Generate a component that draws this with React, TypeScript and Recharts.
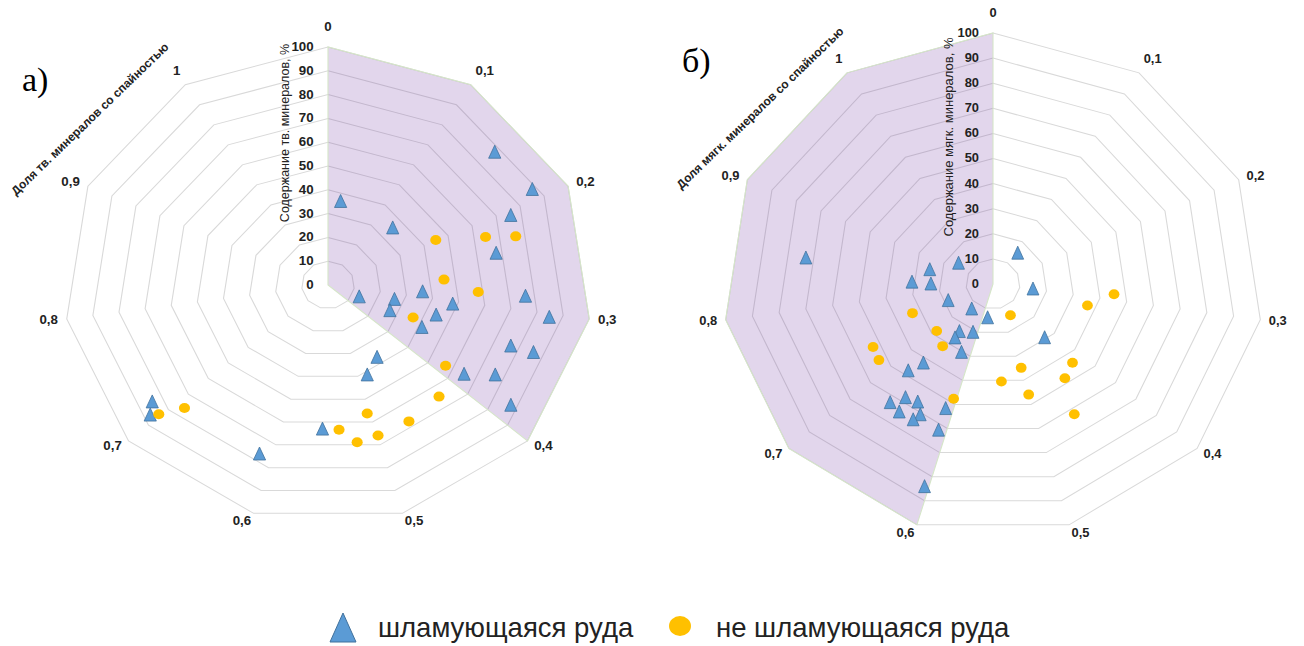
import React from 'react'
import { RadarChart, Radar, PolarGrid, PolarAngleAxis, PolarRadiusAxis } from 'recharts'

// доля минералов со спайностью (угол) и содержание минералов, % (радиус)
const angleTicks = [0, 0.1, 0.2, 0.3, 0.4, 0.5, 0.6, 0.7, 0.8, 0.9, 1]
const radiusTicks = [0, 10, 20, 30, 40, 50, 60, 70, 80, 90, 100]

// а) твёрдые минералы
const slimeHard: [number, number][] = [
  [0.149, 84], [0.192, 87], [0.206, 75], [0.24, 65], [0.024, 35], [0.141, 34],
  [0.35, 13], [0.319, 26], [0.291, 36], [0.353, 26], [0.306, 48], [0.329, 43],
  [0.287, 75], [0.304, 85], [0.358, 40], [0.338, 74], [0.337, 83], [0.455, 36],
  [0.485, 41], [0.386, 64], [0.37, 74], [0.386, 86], [0.556, 61], [0.611, 76],
  [0.713, 83], [0.705, 87],
]
const nonSlimeHard: [number, number][] = [
  [0.199, 45], [0.218, 63], [0.226, 74], [0.266, 44], [0.284, 57], [0.345, 35],
  [0.389, 56], [0.422, 63], [0.503, 56], [0.464, 65], [0.538, 61], [0.499, 66],
  [0.521, 67], [0.692, 75], [0.702, 84],
]
const zoneHard: [number, number][] = [
  [0, 100], [0.1, 100], [0.2, 100], [0.3, 100], [0.4, 100], [0.4, 0],
]

// б) мягкие минералы
const slimeSoft: [number, number][] = [
  [0.85, 70], [0.115, 15], [0.922, 15], [0.864, 24], [0.827, 30], [0.822, 23],
  [0.303, 15], [0.755, 18], [0.664, 13], [0.575, 14], [0.65, 23], [0.613, 21],
  [0.65, 26], [0.62, 30], [0.424, 29], [0.669, 41], [0.678, 47], [0.668, 61],
  [0.658, 56], [0.643, 55], [0.654, 62], [0.633, 59], [0.637, 62], [0.609, 53],
  [0.608, 62], [0.603, 85],
]
const nonSlimeSoft: [number, number][] = [
  [0.291, 45], [0.317, 36], [0.466, 14], [0.76, 32], [0.697, 28], [0.663, 31],
  [0.735, 51], [0.716, 52], [0.497, 35], [0.418, 43], [0.442, 46], [0.536, 39],
  [0.499, 46], [0.604, 48], [0.458, 60],
]
const zoneSoft: [number, number][] = [
  [0.6, 0], [0.6, 100], [0.7, 100], [0.8, 100], [0.9, 100], [1, 100], [1.1, 100],
]

type Row = { a: number; tri?: number; circ?: number; shade?: number }

function buildRows(tri: [number, number][], circ: [number, number][], shade: [number, number][]): Row[] {
  return [
    ...tri.map(([a, r]) => ({ a, tri: r })),
    ...circ.map(([a, r]) => ({ a, circ: r })),
    ...shade.map(([a, r]) => ({ a, shade: r })),
  ]
}

const FONT = '"Liberation Sans", Arial, sans-serif'

// rows without a value for this series must not get a marker
const hasValue = (props: any, key: string) => {
  const { cx, cy, payload } = props
  if (!Number.isFinite(cx) || !Number.isFinite(cy)) return false
  const v = payload?.[key] ?? payload?.payload?.[key]
  return typeof v === 'number'
}

const TriangleDot = (props: any) => {
  if (!hasValue(props, 'tri')) return <g />
  const { cx, cy } = props
  return (
    <path
      d={`M${cx},${cy - 8}L${cx + 5.5},${cy + 5}L${cx - 5.5},${cy + 5}Z`}
      fill="#5B9BD5"
      stroke="#41719C"
      strokeWidth={0.75}
    />
  )
}

const CircleDot = (props: any) => {
  if (!hasValue(props, 'circ')) return <g />
  const { cx, cy } = props
  return <circle cx={cx} cy={cy} r={5} fill="#FFC000" />
}

const AngleTick = (props: any) => {
  const { x, y, textAnchor, payload } = props
  if (payload.value > 1.05) return <g />
  const s = Math.sin((payload.coordinate * Math.PI) / 180)
  const dy = 4 - 12 * Math.pow(Math.max(0, s), 3)
  return (
    <text x={x} y={y + dy} textAnchor={textAnchor} fontSize={12} fontWeight="bold" fill="#222" fontFamily={FONT}>
      {String(payload.value).replace('.', ',')}
    </text>
  )
}

const RadiusTick = (props: any) => {
  const { x, y, payload } = props
  return (
    <text x={x - 13} y={y + 4} textAnchor="end" fontSize={12} fontWeight="bold" fill="#222" fontFamily={FONT}>
      {payload.value}
    </text>
  )
}

function Spider({ rows, cx, cy, radius, width, zoneOnTop }: {
  rows: Row[]; cx: number; cy: number; radius: number; width: number; zoneOnTop: boolean
}) {
  const zone = (
    <Radar
      dataKey="shade"
      fill="#7030A0"
      fillOpacity={0.2}
      stroke="#D5E6C8"
      strokeWidth={1}
      connectNulls
      dot={false}
      isAnimationActive={false}
    />
  )
  return (
    <RadarChart width={width} height={646} data={rows} cx={cx} cy={cy} outerRadius={radius} margin={{ top: 0, right: 0, bottom: 0, left: 0 }}>
      <PolarGrid gridType="polygon" radialLines={false} stroke="#D9D9D9" />
      <PolarAngleAxis
        dataKey="a"
        type="number"
        domain={[0, 1.1]}
        ticks={angleTicks as any}
        tickCount={12}
        axisLine={false}
        tickLine={false}
        tickSize={8}
        tick={AngleTick}
      />
      <PolarRadiusAxis angle={90} domain={[0, 100]} ticks={radiusTicks as any} tickCount={11} axisLine={false} tick={RadiusTick} />
      {!zoneOnTop && zone}
      <Radar dataKey="tri" fill="none" stroke="none" dot={TriangleDot} isAnimationActive={false} />
      <Radar dataKey="circ" fill="none" stroke="none" dot={CircleDot} isAnimationActive={false} />
      {zoneOnTop && zone}
    </RadarChart>
  )
}

export default function App() {
  const hardRows = buildRows(slimeHard, nonSlimeHard, zoneHard)
  const softRows = buildRows(slimeSoft, nonSlimeSoft, zoneSoft)
  return (
    <div style={{ position: 'absolute', left: 0, top: 0, width: 1304, height: 646, background: '#fff', overflow: 'hidden' }}>
      <div style={{ position: 'absolute', left: 0, top: 0, width: 660, height: 646, transform: 'scaleX(1.109)', transformOrigin: '328px 0' }}>
        <Spider rows={hardRows} cx={328} cy={285} radius={238} width={660} zoneOnTop />
      </div>
      <div style={{ position: 'absolute', left: 660, top: 0, width: 644, height: 646, transform: 'scaleX(1.076)', transformOrigin: '333px 0' }}>
        <Spider rows={softRows} cx={333} cy={284} radius={251} width={644} zoneOnTop={false} />
      </div>
      <svg width={1304} height={646} style={{ position: 'absolute', left: 0, top: 0, pointerEvents: 'none' }}>
        <text x={22} y={91} fontSize={34} fontFamily='"Liberation Serif", "Times New Roman", serif' fill="#000">а)</text>
        <text x={682} y={72} fontSize={34} fontFamily='"Liberation Serif", "Times New Roman", serif' fill="#000">б)</text>

        <text transform="translate(90,119) rotate(-44)" textAnchor="middle" dominantBaseline="central" fontSize={12} fontWeight="bold" fill="#222" fontFamily={FONT}>
          Доля тв. минералов со спайностью
        </text>
        <text transform="translate(760,108) rotate(-44)" textAnchor="middle" dominantBaseline="central" fontSize={12} fontWeight="bold" fill="#222" fontFamily={FONT}>
          Доля мягк. минералов со спайностью
        </text>

        <text transform="translate(285,133) rotate(-90)" textAnchor="middle" dominantBaseline="central" fontSize={12.5} fill="#222" fontFamily={FONT}>
          Содержание тв. минералов, %
        </text>
        <text transform="translate(948,137) rotate(-90)" textAnchor="middle" dominantBaseline="central" fontSize={13} fill="#222" fontFamily={FONT}>
          Содержание мягк. минералов, %
        </text>

        <path d="M343,613L356,642L330,642Z" fill="#5B9BD5" stroke="#41719C" strokeWidth={1} />
        <text x={378} y={637} fontSize={27.5} fill="#222" fontFamily={FONT}>шламующаяся руда</text>
        <ellipse cx={680} cy={626} rx={11} ry={10} fill="#FFC000" />
        <text x={716} y={637} fontSize={27.5} fill="#222" fontFamily={FONT}>не шламующаяся руда</text>
      </svg>
    </div>
  )
}
